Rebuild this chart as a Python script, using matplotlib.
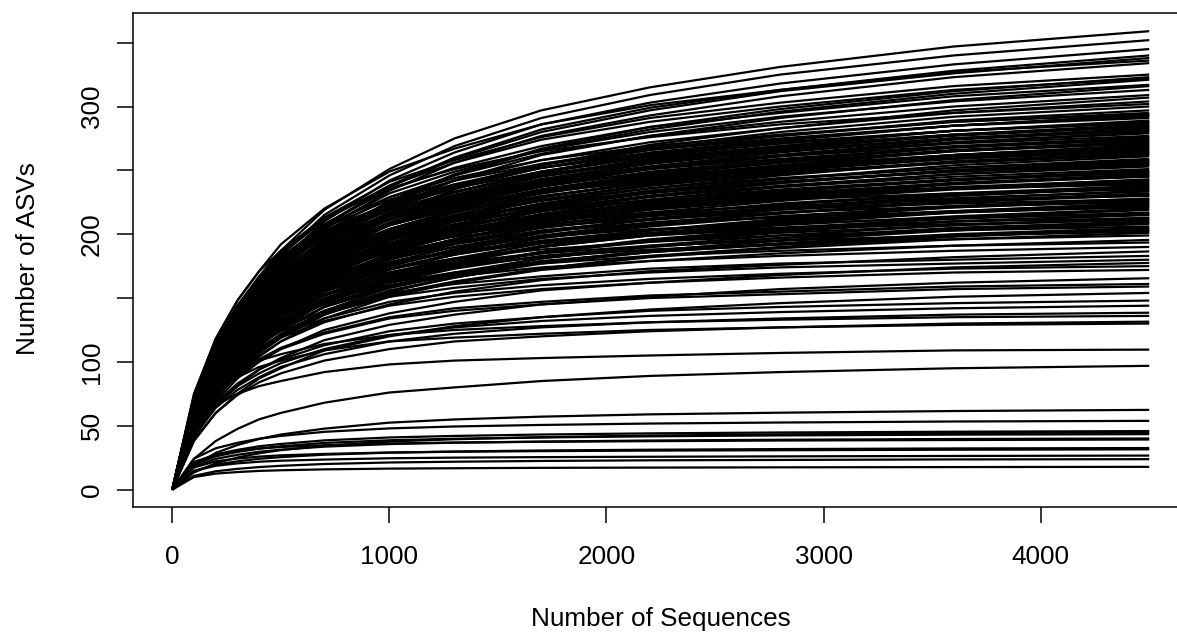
import matplotlib
matplotlib.use("Agg")
import matplotlib.pyplot as plt

# Sampling depths at which each rarefaction curve was read
seq_depth = [0, 100, 200, 300, 400, 500, 700, 1000, 1300, 1700, 2200, 2800, 3600, 4500]

# Richest samples (end above ~295 ASVs)
top_curves = [
    [0, 72, 115, 144, 167, 187, 219, 251, 275, 297, 315, 331, 347, 359],
    [0, 70, 113, 141, 164, 183, 215, 246, 269, 291, 309, 325, 340, 352],
    [0, 69, 110, 138, 160, 179, 210, 242, 264, 286, 303, 318, 333, 345],
    [0, 68, 109, 136, 158, 177, 207, 238, 260, 282, 299, 313, 328, 340],
    [0, 68, 108, 135, 157, 176, 206, 237, 259, 280, 297, 312, 326, 338],
    [0, 74, 118, 148, 171, 192, 220, 249, 267, 286, 301, 313, 327, 336],
    [0, 67, 107, 134, 155, 174, 204, 234, 256, 277, 293, 308, 323, 334],
    [0, 72, 114, 143, 166, 185, 213, 241, 258, 276, 291, 303, 316, 325],
    [0, 65, 103, 129, 150, 168, 197, 226, 247, 267, 284, 298, 312, 323],
    [0, 71, 113, 142, 164, 184, 211, 238, 256, 274, 288, 300, 313, 322],
    [0, 64, 103, 128, 149, 167, 196, 225, 246, 266, 282, 296, 310, 321],
    [0, 70, 111, 139, 162, 181, 208, 235, 252, 269, 284, 295, 308, 317],
    [0, 63, 101, 126, 147, 164, 193, 221, 242, 262, 277, 291, 305, 316],
    [0, 69, 110, 138, 160, 178, 205, 232, 249, 266, 280, 292, 304, 313],
    [0, 68, 108, 136, 158, 176, 202, 229, 246, 263, 277, 288, 300, 309],
    [0, 61, 98, 123, 143, 160, 187, 215, 235, 254, 270, 283, 297, 307],
    [0, 67, 106, 134, 155, 173, 199, 225, 242, 258, 272, 283, 295, 304],
    [0, 75, 118, 148, 171, 187, 213, 236, 251, 265, 276, 286, 295, 302],
    [0, 66, 105, 132, 153, 171, 196, 222, 238, 255, 268, 280, 292, 300],
    [0, 65, 104, 131, 151, 169, 195, 220, 236, 252, 266, 277, 289, 297],
    [0, 69, 109, 137, 159, 176, 201, 224, 239, 254, 267, 277, 288, 295],
]

# Dense band of samples ending between ~200 and ~295 ASVs
dense_curves = [
    [0, 73, 115, 144, 166, 182, 207, 229, 244, 258, 269, 278, 288, 294],
    [0, 65, 103, 129, 150, 167, 192, 217, 233, 249, 263, 274, 285, 293.5],
    [0, 64, 103, 129, 149, 167, 192, 217, 233, 249, 262, 273, 285, 293],
    [0, 69, 108, 136, 157, 174, 199, 222, 237, 252, 264, 274, 285, 292],
    [0, 73, 113, 143, 164, 180, 205, 227, 242, 255, 266, 275, 285, 291],
    [0, 64, 101, 127, 147, 165, 189, 214, 230, 246, 259, 269, 281, 289],
    [0, 68, 107, 134, 155, 171, 196, 219, 233, 248, 261, 271, 281, 288],
    [0, 72, 112, 141, 162, 178, 203, 224, 239, 252, 263, 272, 281, 287.5],
    [0, 72, 112, 141, 162, 178, 202, 224, 238, 252, 263, 271, 281, 287],
    [0, 63, 100, 126, 146, 163, 187, 212, 227, 243, 256, 267, 278, 286],
    [0, 67, 105, 133, 153, 170, 194, 217, 231, 246, 258, 268, 278, 285],
    [0, 67, 105, 132, 153, 169, 193, 216, 230, 245, 257, 267, 277, 284.5],
    [0, 71, 111, 139, 160, 176, 200, 222, 236, 249, 260, 269, 278, 284],
    [0, 62, 99, 125, 144, 161, 185, 209, 225, 241, 253, 264, 275, 283],
    [0, 66, 104, 131, 152, 168, 192, 214, 228, 243, 255, 265, 275, 282],
    [0, 62, 98, 124, 144, 160, 184, 208, 224, 239, 252, 262, 274, 281.5],
    [0, 70, 110, 138, 159, 174, 198, 219, 233, 247, 257, 266, 275, 281],
    [0, 62, 98, 123, 143, 160, 183, 207, 223, 238, 251, 261, 272, 280],
    [0, 66, 103, 130, 150, 166, 190, 212, 226, 240, 252, 262, 272, 279],
    [0, 69, 108, 136, 156, 172, 195, 216, 230, 243, 253, 262, 271, 277],
    [0, 61, 97, 121, 141, 157, 181, 204, 219, 235, 247, 257, 268, 276],
    [0, 69, 107, 135, 156, 171, 194, 215, 229, 242, 252, 261, 269, 275.5],
    [0, 65, 102, 128, 148, 164, 187, 209, 223, 237, 249, 258, 268, 275],
    [0, 68, 107, 134, 155, 170, 193, 214, 227, 241, 251, 259, 268, 274],
    [0, 60, 96, 120, 139, 156, 179, 202, 217, 232, 244, 254, 265, 273],
    [0, 64, 101, 127, 147, 162, 185, 207, 221, 235, 247, 256, 266, 272.5],
    [0, 64, 101, 126, 146, 162, 185, 207, 220, 234, 246, 256, 265, 272],
    [0, 68, 106, 133, 153, 168, 191, 211, 225, 238, 248, 256, 265, 271],
    [0, 59, 94, 119, 138, 154, 177, 200, 215, 229, 242, 252, 262, 270],
    [0, 59, 94, 119, 137, 154, 177, 199, 214, 229, 241, 251, 262, 269.5],
    [0, 63, 100, 125, 145, 160, 183, 204, 218, 232, 243, 253, 262, 269],
    [0, 67, 105, 131, 151, 166, 189, 209, 222, 235, 245, 254, 262, 268],
    [0, 59, 93, 117, 136, 152, 175, 198, 212, 227, 239, 249, 260, 267],
    [0, 67, 104, 131, 151, 165, 188, 208, 221, 234, 244, 252, 261, 266.5],
    [0, 62, 98, 124, 143, 158, 181, 202, 215, 229, 241, 250, 259, 266],
    [0, 66, 103, 130, 150, 164, 187, 207, 220, 233, 242, 251, 259, 265],
    [0, 58, 92, 116, 135, 150, 173, 195, 210, 224, 236, 246, 257, 264],
    [0, 62, 97, 123, 142, 157, 179, 200, 213, 227, 238, 248, 257, 263.5],
    [0, 62, 97, 122, 141, 156, 179, 200, 213, 227, 238, 247, 256, 263],
    [0, 66, 102, 128, 148, 162, 185, 204, 217, 230, 240, 248, 256, 262],
    [0, 57, 91, 115, 133, 149, 171, 193, 207, 222, 234, 243, 254, 261],
    [0, 61, 96, 120, 139, 154, 176, 197, 210, 223, 234, 243, 252, 259],
    [0, 64, 101, 126, 146, 160, 182, 201, 214, 226, 236, 244, 252, 258],
    [0, 57, 90, 113, 131, 147, 169, 191, 205, 219, 230, 240, 250, 257.5],
    [0, 57, 90, 113, 131, 146, 168, 190, 204, 218, 230, 240, 250, 257],
    [0, 60, 95, 119, 138, 152, 174, 195, 207, 221, 232, 241, 250, 256],
    [0, 64, 99, 125, 144, 158, 180, 199, 212, 224, 233, 241, 249, 255],
    [0, 64, 99, 125, 144, 158, 179, 199, 211, 223, 233, 241, 249, 254.5],
    [0, 56, 89, 112, 130, 145, 166, 188, 202, 216, 227, 237, 247, 254],
    [0, 59, 94, 118, 136, 150, 172, 192, 205, 218, 229, 238, 247, 253],
    [0, 63, 98, 123, 142, 156, 177, 196, 208, 220, 230, 237, 245, 251],
    [0, 55, 88, 110, 128, 142, 164, 185, 199, 212, 224, 233, 243, 250],
    [0, 58, 92, 116, 134, 148, 169, 189, 202, 215, 225, 234, 243, 249],
    [0, 58, 92, 116, 134, 148, 169, 189, 201, 214, 225, 234, 242, 248.5],
    [0, 62, 97, 122, 140, 154, 175, 193, 206, 218, 227, 235, 243, 248],
    [0, 54, 86, 109, 126, 141, 162, 183, 196, 210, 221, 230, 240, 247],
    [0, 58, 91, 114, 132, 146, 167, 187, 199, 212, 223, 231, 240, 246],
    [0, 54, 86, 108, 125, 140, 161, 182, 195, 209, 220, 229, 239, 245.5],
    [0, 61, 96, 120, 138, 152, 173, 191, 203, 215, 224, 232, 240, 245],
    [0, 53, 85, 107, 124, 138, 159, 180, 193, 207, 217, 226, 236, 243],
    [0, 61, 95, 119, 137, 150, 171, 189, 201, 213, 222, 229, 237, 242.5],
    [0, 57, 90, 113, 130, 144, 165, 184, 196, 209, 219, 227, 236, 242],
    [0, 60, 94, 118, 136, 149, 170, 188, 200, 212, 220, 228, 236, 241],
    [0, 60, 94, 118, 136, 149, 169, 187, 199, 211, 220, 227, 235, 240],
    [0, 72, 110, 134, 152, 165, 183, 201, 211, 219, 226, 231, 236, 239.5],
    [0, 72, 110, 134, 152, 165, 183, 201, 210, 219, 226, 231, 236, 239],
    [0, 56, 88, 111, 128, 142, 162, 181, 193, 205, 215, 224, 232, 238],
    [0, 52, 83, 104, 121, 135, 155, 175, 188, 201, 212, 221, 230, 237],
    [0, 52, 83, 104, 121, 135, 155, 175, 188, 201, 212, 220, 230, 236.5],
    [0, 59, 92, 116, 133, 146, 166, 184, 196, 207, 216, 223, 231, 236],
    [0, 70, 108, 132, 149, 162, 180, 197, 207, 215, 222, 227, 232, 235],
    [0, 55, 87, 109, 126, 139, 159, 178, 190, 202, 212, 220, 228, 234],
    [0, 58, 91, 114, 132, 145, 165, 182, 194, 205, 214, 221, 228, 233.5],
    [0, 51, 81, 102, 118, 132, 152, 172, 184, 197, 208, 216, 226, 232],
    [0, 58, 90, 113, 131, 143, 163, 180, 192, 203, 211, 219, 226, 231],
    [0, 54, 85, 107, 124, 137, 157, 175, 187, 199, 209, 217, 225, 230.5],
    [0, 69, 106, 129, 146, 159, 176, 193, 202, 210, 217, 222, 227, 230],
    [0, 54, 84, 106, 123, 136, 155, 173, 185, 197, 206, 214, 222, 228],
    [0, 68, 105, 127, 144, 157, 174, 191, 200, 208, 215, 220, 224, 227.5],
    [0, 50, 79, 100, 116, 129, 149, 168, 180, 193, 203, 212, 221, 227],
    [0, 56, 88, 111, 128, 140, 159, 176, 188, 198, 207, 214, 221, 226],
    [0, 68, 104, 126, 143, 155, 172, 189, 198, 206, 212, 217, 222, 225],
    [0, 49, 79, 99, 114, 128, 147, 166, 178, 191, 201, 209, 218, 224.5],
    [0, 53, 83, 104, 121, 133, 152, 170, 181, 193, 203, 211, 218, 224],
    [0, 49, 78, 98, 114, 127, 146, 165, 177, 190, 200, 208, 217, 223],
    [0, 56, 87, 109, 125, 138, 156, 173, 184, 195, 203, 210, 217, 222],
    [0, 55, 86, 109, 125, 137, 156, 173, 184, 194, 203, 210, 217, 221.5],
    [0, 66, 102, 124, 140, 152, 169, 186, 194, 202, 209, 213, 218, 221],
    [0, 52, 81, 102, 118, 131, 150, 167, 178, 190, 199, 207, 214, 220],
    [0, 48, 77, 96, 112, 125, 143, 162, 174, 186, 196, 204, 213, 219],
    [0, 54, 85, 106, 123, 135, 153, 169, 180, 190, 199, 205, 212, 217],
    [0, 65, 99, 121, 137, 149, 165, 181, 190, 198, 204, 208, 213, 216],
    [0, 51, 80, 100, 116, 128, 147, 164, 175, 186, 195, 203, 210, 215.5],
    [0, 50, 80, 100, 116, 128, 146, 163, 174, 185, 195, 202, 210, 215],
    [0, 47, 75, 94, 109, 121, 140, 158, 169, 181, 191, 199, 207, 213],
    [0, 64, 98, 119, 135, 147, 163, 178, 187, 194, 201, 205, 210, 212.5],
    [0, 53, 83, 104, 120, 131, 149, 165, 176, 186, 194, 201, 207, 212],
    [0, 63, 97, 118, 134, 146, 161, 177, 186, 193, 199, 204, 208, 211],
    [0, 49, 78, 98, 113, 125, 143, 160, 170, 181, 190, 197, 205, 210],
    [0, 46, 73, 92, 107, 119, 137, 155, 167, 178, 187, 195, 204, 209.5],
    [0, 46, 73, 92, 107, 119, 137, 155, 166, 178, 187, 195, 203, 209],
    [0, 52, 81, 102, 118, 129, 147, 162, 173, 183, 190, 197, 203, 208],
    [0, 62, 95, 115, 131, 142, 158, 173, 181, 188, 194, 199, 203, 206],
    [0, 48, 76, 95, 110, 122, 139, 156, 166, 177, 186, 193, 200, 205],
    [0, 45, 71, 90, 104, 116, 134, 151, 162, 173, 183, 190, 198, 204],
    [0, 51, 79, 100, 115, 126, 143, 159, 169, 179, 186, 192, 199, 203.5],
    [0, 51, 79, 99, 115, 126, 143, 158, 168, 178, 186, 192, 199, 203],
    [0, 61, 93, 113, 128, 139, 155, 170, 178, 185, 191, 195, 199, 202],
    [0, 47, 74, 93, 108, 120, 137, 153, 163, 173, 182, 189, 196, 201],
]

# Samples ending between ~130 and ~200 ASVs
mid_curves = [
    [0, 60, 92, 111, 126, 137, 152, 167, 175, 182, 188, 192, 196, 199],
    [0, 49, 76, 96, 110, 121, 138, 152, 162, 172, 179, 185, 191, 195.5],
    [0, 58, 89, 108, 123, 133, 148, 162, 170, 177, 183, 187, 191, 193.5],
    [0, 57, 87, 106, 121, 131, 145, 160, 167, 174, 179, 183, 187, 190],
    [0, 47, 73, 91, 105, 116, 131, 145, 155, 164, 171, 176, 182, 186.5],
    [0, 55, 84, 102, 116, 126, 140, 154, 161, 167, 173, 177, 180, 183],
    [0, 54, 83, 101, 114, 124, 138, 151, 158, 165, 170, 174, 177, 180],
    [0, 44, 69, 87, 100, 110, 125, 138, 147, 156, 162, 168, 174, 177.5],
    [0, 52, 80, 98, 111, 121, 134, 147, 154, 160, 165, 169, 173, 175],
    [0, 52, 79, 96, 109, 119, 132, 144, 151, 157, 162, 166, 170, 172],
    [0, 41, 65, 81, 94, 103, 117, 129, 137, 145, 151, 157, 162, 165.5],
    [0, 48, 74, 90, 102, 111, 123, 135, 142, 147, 152, 155, 159, 161],
    [0, 48, 73, 89, 101, 110, 122, 134, 140, 145, 150, 153, 157, 159],
    [0, 38, 60, 75, 87, 95, 109, 120, 128, 135, 141, 146, 151, 154],
    [0, 44, 68, 83, 94, 102, 113, 124, 130, 135, 140, 143, 146, 148],
    [0, 43, 66, 81, 91, 99, 110, 121, 127, 132, 136, 139, 142, 144],
    [0, 42, 64, 78, 88, 96, 106, 116, 122, 127, 131, 134, 137, 138.5],
    [0, 61, 82, 92, 101, 106, 114, 121, 125, 128, 131, 133, 135, 136],
    [0, 39, 60, 74, 84, 91, 101, 110, 116, 120, 124, 127, 130, 131.5],
    [0, 58, 78, 88, 96, 101, 109, 116, 119, 122, 125, 127, 129, 130],
]

# Samples ending below ~110 ASVs
low_curves = [
    [0, 49, 66, 75, 81, 85, 92, 98, 101, 103, 105, 107, 109, 109.6],
    [0, 24, 38, 47.5, 55, 60, 68, 76, 80, 85, 89, 92, 95, 96.9],
    [0, 18.7, 28.7, 34.9, 39.6, 43.1, 47.7, 52.4, 54.9, 57.1, 58.9, 60.2, 61.5, 62.4],
    [0, 24.2, 32.3, 36.6, 39.8, 42, 45.2, 47.9, 49.4, 50.6, 51.7, 52.5, 53.3, 53.8],
    [0, 20.6, 27.5, 31.1, 33.9, 35.7, 38.5, 40.8, 42, 43.1, 44, 44.7, 45.3, 45.8],
    [0, 13.4, 20.6, 25.1, 28.4, 30.9, 34.3, 37.6, 39.4, 41, 42.3, 43.2, 44.2, 44.8],
    [0, 19.5, 26, 29.5, 32.1, 33.9, 36.5, 38.6, 39.8, 40.8, 41.7, 42.4, 43, 43.4],
    [0, 18, 24, 27.2, 29.6, 31.2, 33.6, 35.6, 36.7, 37.6, 38.4, 39, 39.6, 40],
    [0, 21.6, 27.4, 30.2, 32.1, 33.3, 34.7, 36.1, 36.8, 37.4, 37.9, 38.4, 38.8, 39.2],
    [0, 14.6, 19.5, 22.1, 24.1, 25.4, 27.3, 28.9, 29.8, 30.6, 31.2, 31.7, 32.2, 32.5],
    [0, 17.3, 22.1, 24.3, 25.8, 26.8, 27.9, 29, 29.6, 30.1, 30.5, 30.8, 31.2, 31.5],
    [0, 14.6, 18.6, 20.5, 21.8, 22.6, 23.5, 24.5, 25, 25.4, 25.7, 26, 26.3, 26.6],
    [0, 10.7, 14.3, 16.2, 17.6, 18.6, 20, 21.2, 21.8, 22.4, 22.9, 23.2, 23.6, 23.8],
    [0, 9.8, 12.5, 13.7, 14.6, 15.1, 15.8, 16.4, 16.7, 17, 17.2, 17.4, 17.6, 17.8],
]

x_ticks = [0, 1000, 2000, 3000, 4000]
y_ticks = [0, 50, 100, 150, 200, 250, 300, 350]
y_tick_labels = ["0", "50", "100", "", "200", "", "300", ""]
x_label = "Number of Sequences"
y_label = "Number of ASVs"

plt.rcParams["font.family"] = ["Liberation Sans", "DejaVu Sans"]
FS = 18.8

W, H = 1177, 634
fig = plt.figure(figsize=(W / 100, H / 100), dpi=100)
ax_left, ax_right, ax_top, ax_bottom = 133.2, 1188.3, 13.3, 507.3
ax = fig.add_axes([ax_left / W, 1 - ax_bottom / H,
                   (ax_right - ax_left) / W, (ax_bottom - ax_top) / H])

for group in (top_curves, dense_curves, mid_curves, low_curves):
    for curve in group:
        ax.plot(seq_depth, curve, color="black", lw=1.6,
                solid_joinstyle="round", solid_capstyle="butt")

ax.set_xlim(-180, 4680)
ax.set_ylim(-13.9, 373)

ax.set_xticks(x_ticks)
ax.set_xticklabels([str(t) for t in x_ticks], fontsize=FS)
ax.set_yticks(y_ticks)
ax.set_yticklabels(y_tick_labels, fontsize=FS, rotation=90, va="center")
ax.tick_params(axis="both", direction="out", length=11.5, width=1.1,
               color="black")
ax.tick_params(axis="x", pad=16.0)
ax.tick_params(axis="y", pad=9.5)
for s in ax.spines.values():
    s.set_linewidth(1.1)
    s.set_color("black")

fig.text(660.8 / W, 1 - 626 / H, x_label, fontsize=FS,
         ha="center", va="baseline")
fig.text(35 / W, 1 - 259 / H, y_label, fontsize=FS, rotation=90,
         rotation_mode="anchor", ha="center", va="baseline")

fig.savefig("out.png", dpi=100, facecolor="white")
